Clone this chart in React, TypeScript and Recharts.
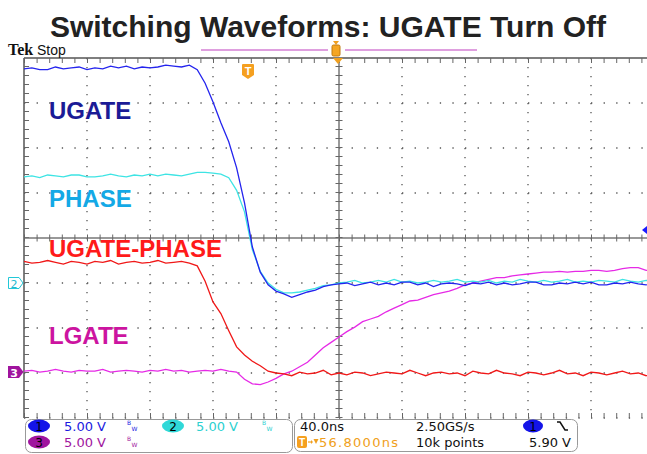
import { LineChart, Line, XAxis, YAxis, CartesianGrid, ReferenceLine } from "recharts"

// time base: 40 ns/div, 10 divs across; vertical: 5 V/div, 8 divs
const TIME_NS = [
    0, 5, 10, 15, 20, 25, 30, 35, 40, 45, 50, 55, 60, 65, 70, 75, 80, 85, 90, 95,
    100, 105, 110, 115, 120, 125, 130, 135, 140, 145, 150, 155, 160, 165, 170, 175, 180, 185, 190, 195,
    200, 205, 210, 215, 220, 225, 230, 235, 240, 245, 250, 255, 260, 265, 270, 275, 280, 285, 290, 295,
    300, 305, 310, 315, 320, 325, 330, 335, 340, 345, 350, 355, 360, 365, 370, 375, 380, 385, 390, 395,
    400,
]

const UGATE = [
    18.8, 18.9, 18.7, 18.7, 19.0, 18.8, 18.9, 19.0, 18.7, 18.9, 18.8, 19.1, 18.9, 19.1, 18.8, 19.0,
    18.9, 19.0, 19.2, 19.1, 19.0, 19.2,
    18.7, 17.2, 15.1, 12.8, 10.7, 7.8, 3.9, -1.0, -3.8, -5.2, -5.9, -6.2, -6.6, -6.3, -6.0, -5.8, -5.4, -5.2, -5.1,
    -5.0, -5.3, -5.1, -4.9, -5.2, -5.0, -5.2, -4.9, -4.9, -5.2, -5.0, -5.4, -5.1, -5.0, -5.1, -5.3,
    -5.0, -5.1, -4.9, -5.2, -5.0, -5.2, -5.1, -4.9, -4.9, -5.2, -5.2, -5.0, -5.1, -4.9, -5.1, -4.9,
    -5.2, -5.2, -5.0, -5.1, -4.9, -5.1, -5.2, -5.0,
]

const PHASE = [
    6.8, 6.9, 6.7, 7.0, 6.9, 6.8, 7.0, 7.0, 6.8, 6.8, 6.9, 7.1, 6.9, 6.8, 7.0, 6.9, 7.1, 6.9, 7.1, 7.0, 6.9,
    7.1, 7.3, 7.3, 7.2, 7.1, 6.7, 5.3, 2.9, -1.3, -3.7, -5.0, -5.7, -6.1, -6.1, -6.0, -5.8, -5.6, -5.3, -5.2, -5.0,
    -4.9, -4.7, -5.0, -4.9, -4.7, -4.9, -4.6, -4.9, -4.8, -5.0, -4.9, -4.7, -4.9, -4.8, -4.6, -4.9,
    -4.8, -4.9, -4.7, -5.0, -4.8, -4.9, -4.6, -4.8, -4.9, -4.7, -4.9, -4.8, -4.6, -4.9, -4.8, -4.9,
    -4.7, -4.8, -4.9, -4.6, -4.8, -4.9, -4.7, -4.9,
]

const UGATE_PHASE = [
    -2.6, -2.8, -2.7, -2.5, -2.7, -2.9, -2.6, -2.7, -2.9, -2.6, -2.7, -2.5, -2.9, -2.7, -2.6, -2.8,
    -2.7, -2.5, -2.8, -2.7, -2.6, -2.8,
    -3.1, -4.8, -7.1, -8.4, -10.3, -12.1, -13.0, -13.7, -14.2, -14.8, -15.0, -15.1,
    -15.3, -14.9, -15.1, -15.0, -14.7, -15.2, -15.0, -15.2, -14.9, -15.0,
    -15.3, -15.1, -14.9, -15.0, -15.1, -14.7, -15.0, -15.3, -15.0, -14.9,
    -15.1, -15.0, -15.3, -14.8, -15.0, -15.1, -14.7, -15.0, -15.1, -15.3,
    -14.9, -15.0, -15.2, -15.0, -14.7, -15.1, -15.0, -15.3, -14.9, -15.0,
    -15.2, -15.0, -14.8, -15.1, -15.0, -15.3, -15.0,
]

const LGATE = [
    -14.8, -14.7, -14.9, -14.8, -14.6, -14.8, -14.9, -14.7, -14.8, -14.8, -14.6, -14.9, -14.8, -14.7,
    -14.8, -14.9, -14.7, -14.8, -14.6, -14.8, -14.7, -14.9, -14.8, -14.7, -14.8, -14.6, -14.8, -14.9,
    -15.7, -16.2, -16.3, -16.0, -15.6, -15.1, -14.8, -14.3, -13.8, -13.0,
    -12.2, -11.6, -11.0, -10.4, -9.9, -9.3, -9.0, -8.7, -8.2, -7.8,
    -7.4, -7.0, -6.9, -6.6, -6.3, -6.1, -5.9, -5.6, -5.2, -5.0,
    -4.8, -4.6, -4.4, -4.4, -4.2, -4.1, -4.0, -3.9, -3.8, -3.8,
    -3.7, -3.8, -3.7, -3.7, -3.6, -3.6, -3.7, -3.6, -3.4, -3.3,
    -3.3, -3.6, -3.5,
]

const GRID_X = [40, 80, 120, 160, 240, 280, 320, 360]
const GRID_Y = [-20, -15, -10, -5, 5, 10, 15]

const data = TIME_NS.map((t, i) => ({
    t,
    ugate: UGATE[i],
    phase: PHASE[i],
    ugatePhase: UGATE_PHASE[i],
    lgate: LGATE[i],
}))

const SANS = "'Liberation Sans', Arial, sans-serif"
const MONO = "'DejaVu Sans', sans-serif"

// tiny "BW" bandwidth flag: B up-left, W down-right
function BwFlag({ x, y, color }: { x: number; y: number; color: string }) {
    return (
        <g fontFamily={MONO} fontSize={6} fill={color}>
            <text x={x} y={y - 1}>B</text>
            <text x={x + 4.5} y={y + 5}>W</text>
        </g>
    )
}

function Overlay() {
    return (
        <svg width={647} height={454} style={{ position: "absolute", left: 0, top: 0, pointerEvents: "none" }}>
            <text x={328} y={37} textAnchor="middle" fontFamily={SANS} fontWeight="bold" fontSize={30} fill="#222">
                Switching Waveforms: UGATE Turn Off
            </text>

            <text x={8} y={55} fontFamily="'Liberation Serif', serif" fontWeight="bold" fontSize={16} fill="#111">Tek</text>
            <text x={37} y={55} fontFamily={SANS} fontSize={14} fill="#111">Stop</text>

            {/* record position bar */}
            <line x1={201} y1={50} x2={328} y2={50} stroke="#c040c0" strokeWidth={1.2} />
            <line x1={345} y1={50} x2={477} y2={50} stroke="#c040c0" strokeWidth={1.2} />
            <path d="M333,41 L339,41 L336,45 Z" fill="#f0a020" />
            <rect x={332} y={45} width={8} height={11} rx={1.5} fill="#f5a623" stroke="#c07a10" />
            <path d="M333,58 L343,58 L338,64 Z" fill="#f0a020" />

            {/* trace labels */}
            <text x={49} y={119} fontFamily={SANS} fontWeight="bold" fontSize={24} fill="#1b1b96">UGATE</text>
            <text x={49} y={207} fontFamily={SANS} fontWeight="bold" fontSize={24} fill="#14a9e6">PHASE</text>
            <text x={49} y={257} fontFamily={SANS} fontWeight="bold" fontSize={24} fill="#ff1a1a">UGATE-PHASE</text>
            <text x={49} y={344} fontFamily={SANS} fontWeight="bold" fontSize={24} fill="#cc14a0">LGATE</text>

            {/* trigger marker */}
            <path d="M242,65 Q242,64 243,64 L253,64 Q254,64 254,65 L254,75 L248,79 L242,75 Z" fill="#f5a020" />
            <text x={248} y={75} textAnchor="middle" fontFamily={SANS} fontWeight="bold" fontSize={11} fill="#fff">T</text>

            {/* channel ground markers */}
            <path d="M8.5,277.5 H19 L23,283 L19,288.5 H8.5 Z" fill="#fff" stroke="#22c8d8" />
            <text x={14} y={287.5} textAnchor="middle" fontFamily={MONO} fontSize={11} fill="#22b8d0">2</text>
            <path d="M8,366 H19 L23.5,372 L19,378 H8 Z" fill="#a0149e" />
            <text x={14} y={376.5} textAnchor="middle" fontFamily={MONO} fontWeight="bold" fontSize={11} fill="#fff">3</text>
            <path d="M647,226 L642,230 L647,234 Z" fill="#1a1aff" />

            {/* readout boxes */}
            <rect x={25.5} y={419.5} width={267} height={33} rx={6} fill="none" stroke="#999" />
            <rect x={294.5} y={419.5} width={283} height={32} rx={6} fill="none" stroke="#999" />

            <ellipse cx={39} cy={426} rx={11} ry={6.5} fill="#1414e8" />
            <text x={39} y={430.5} textAnchor="middle" fontFamily={MONO} fontSize={12} fill="#000">1</text>
            <text x={64} y={431} fontFamily={MONO} fontSize={13} fill="#1a1ae0">5.00 V</text>
            <BwFlag x={127} y={426} color="#1a1ae0" />

            <ellipse cx={173} cy={426} rx={11} ry={6.5} fill="#30d8d8" />
            <text x={173} y={430.5} textAnchor="middle" fontFamily={MONO} fontSize={12} fill="#000">2</text>
            <text x={196} y={431} fontFamily={MONO} fontSize={13} fill="#2cd0d0">5.00 V</text>
            <BwFlag x={262} y={426} color="#2cd0d0" />

            <ellipse cx={39} cy={442} rx={11} ry={6.5} fill="#a0149e" />
            <text x={39} y={446.5} textAnchor="middle" fontFamily={MONO} fontSize={12} fill="#000">3</text>
            <text x={64} y={447} fontFamily={MONO} fontSize={13} fill="#a0149e">5.00 V</text>
            <BwFlag x={127} y={442} color="#a0149e" />

            <text x={300} y={431} fontFamily={MONO} fontSize={13} fill="#111">40.0ns</text>
            <text x={416} y={431} fontFamily={MONO} fontSize={13} fill="#111">2.50GS/s</text>
            <ellipse cx={533} cy={426} rx={10} ry={6.5} fill="#1414e8" />
            <text x={533} y={430.5} textAnchor="middle" fontFamily={MONO} fontSize={12} fill="#000">1</text>
            <path d="M557,422 H560 L565,430 H568" fill="none" stroke="#111" strokeWidth={1.5} />

            <rect x={297} y={436} width={10} height={12} rx={2} fill="#f5a020" />
            <text x={302} y={446} textAnchor="middle" fontFamily={SANS} fontWeight="bold" fontSize={10} fill="#fff">T</text>
            <path d="M308,442 H312" stroke="#f0a020" strokeWidth={1.2} />
            <path d="M311,440 L313,442 L311,444 Z" fill="#f0a020" />
            <path d="M313.5,439 L318.5,439 L316,444 Z" fill="#f0a020" />
            <text x={319} y={447} fontFamily={MONO} fontSize={13} fill="#f0a020" textLength={79}>56.8000ns</text>
            <text x={416} y={447} fontFamily={MONO} fontSize={13} fill="#111">10k points</text>
            <text x={529} y={447} fontFamily={MONO} fontSize={13} fill="#111">5.90 V</text>
        </svg>
    )
}

export default function App() {
    return (
        <div style={{ position: "absolute", left: 0, top: 0, width: 647, height: 454, overflow: "hidden", background: "#fff" }}>
            <LineChart width={660} height={454} data={data} margin={{ top: 58, right: 6, bottom: 36, left: 24 }}>
                <XAxis dataKey="t" type="number" domain={[0, 400]} hide />
                <YAxis type="number" domain={[-20, 20]} hide />
                <CartesianGrid horizontal={false} verticalValues={GRID_X} stroke="#555" strokeWidth={1.3} strokeDasharray="1.3 7.7" />
                <CartesianGrid vertical={false} horizontalValues={GRID_Y} stroke="#555" strokeWidth={1.3} strokeDasharray="1.3 11.3" />

                {/* frame edges */}
                <ReferenceLine y={20} stroke="#555" strokeWidth={1.5} />
                <ReferenceLine x={0} stroke="#555" strokeWidth={1.5} />
                <ReferenceLine y={19.72} stroke="#666" strokeWidth={5} strokeDasharray="1 11.6" />
                <ReferenceLine y={-19.72} stroke="#666" strokeWidth={5} strokeDasharray="1 11.6" />
                <ReferenceLine x={1.6} stroke="#666" strokeWidth={5} strokeDasharray="1 8" />

                {/* centre crosshair with minor ticks */}
                <ReferenceLine x={200} stroke="#777" strokeWidth={1.5} />
                <ReferenceLine y={0} stroke="#777" strokeWidth={1.5} />
                <ReferenceLine x={200} stroke="#666" strokeWidth={7} strokeDasharray="1 8" />
                <ReferenceLine y={0} stroke="#666" strokeWidth={7} strokeDasharray="1 11.6" />

                <Line type="linear" dataKey="lgate" stroke="#e62ae6" strokeWidth={1.3} dot={false} isAnimationActive={false} />
                <Line type="linear" dataKey="ugatePhase" stroke="#f01818" strokeWidth={1.3} dot={false} isAnimationActive={false} />
                <Line type="linear" dataKey="phase" stroke="#3ee4e4" strokeWidth={1.3} dot={false} isAnimationActive={false} />
                <Line type="linear" dataKey="ugate" stroke="#2424ee" strokeWidth={1.3} dot={false} isAnimationActive={false} />
            </LineChart>
            <Overlay />
        </div>
    )
}
